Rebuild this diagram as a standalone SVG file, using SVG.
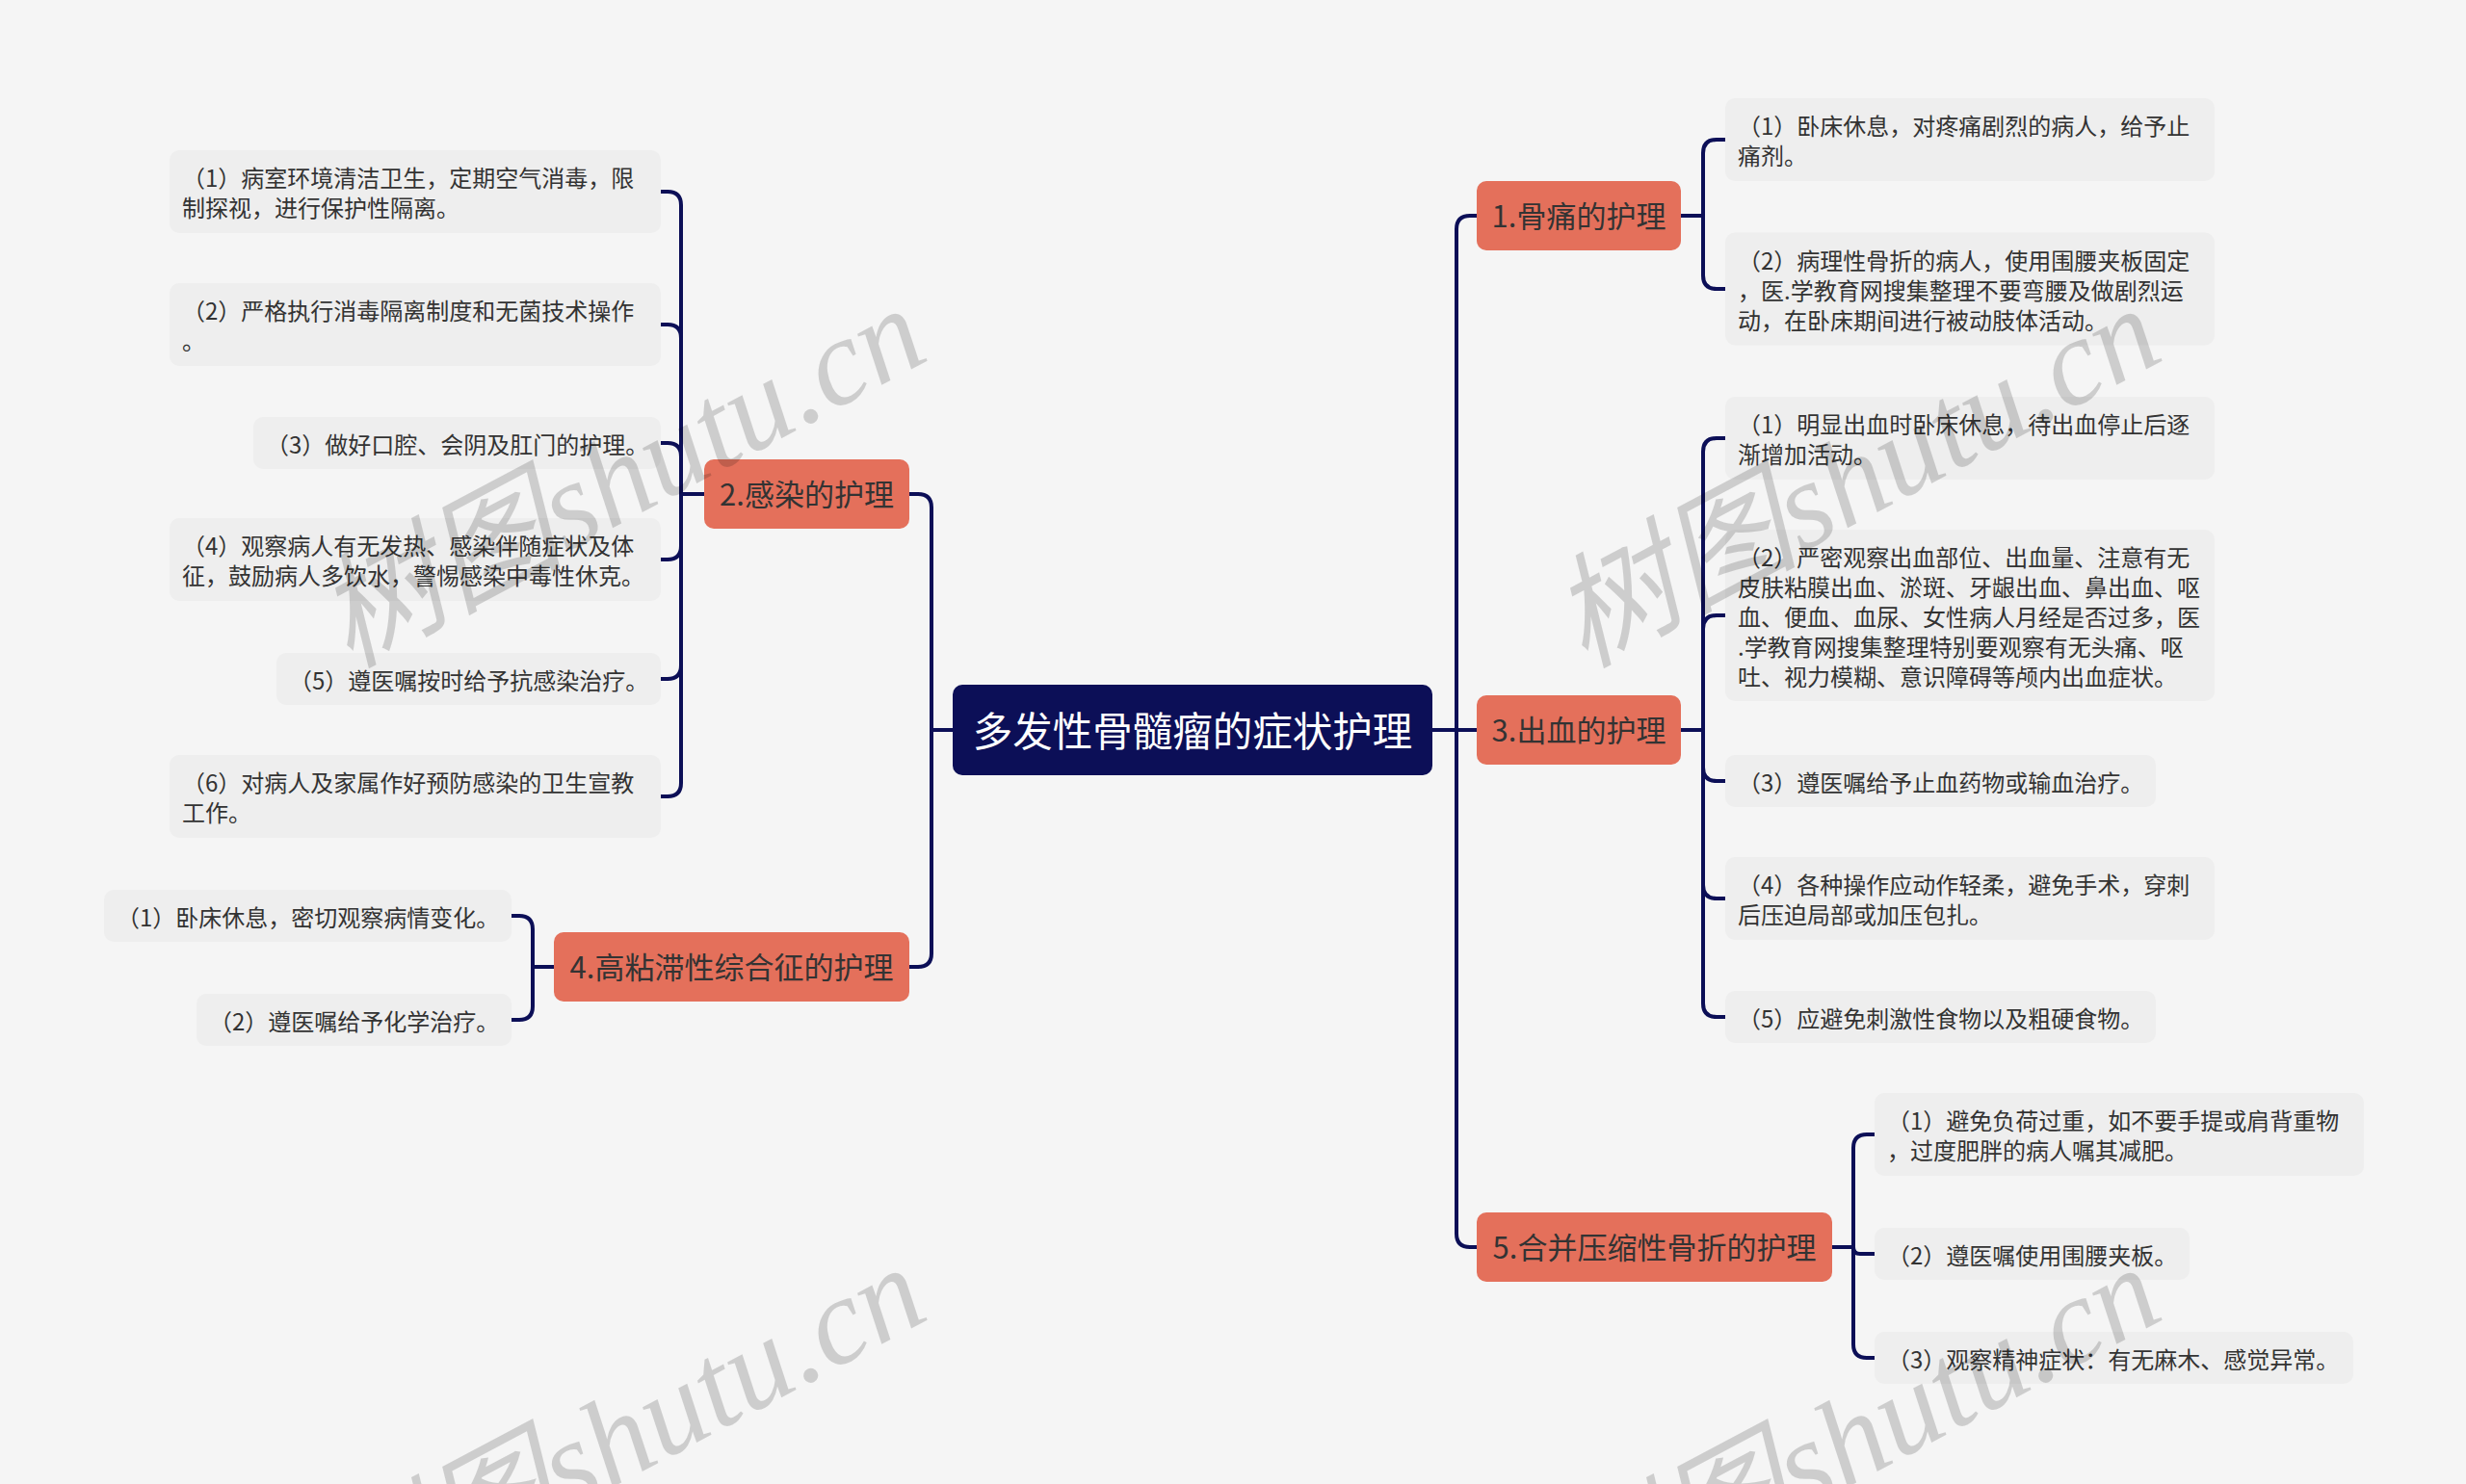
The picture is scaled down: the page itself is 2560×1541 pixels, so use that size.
<svg xmlns="http://www.w3.org/2000/svg" width="2560" height="1541" viewBox="0 0 2560 1541">
<style>
.bg{fill:#F5F5F5}
.leaf{fill:#EEEEEE}
.lt{font-family:"Noto Sans CJK SC","Noto Sans",sans-serif;font-size:24px;fill:#333333;dominant-baseline:central}
.l1{fill:#E4705B}
.l1t{font-family:"Noto Sans CJK SC","Noto Sans",sans-serif;font-size:31px;fill:#333333;text-anchor:middle;dominant-baseline:central}
.root{fill:#0C0F57}
.rt{font-family:"Noto Sans CJK SC","Noto Sans",sans-serif;font-size:41.5px;fill:#FFFFFF;text-anchor:middle;dominant-baseline:central}
.c{fill:none;stroke:#0C0F57;stroke-width:4;stroke-linecap:round}
.wm{font-family:"Liberation Serif","Noto Sans CJK SC",serif;font-style:italic;font-size:128px;fill:#000000;fill-opacity:0.16}
</style>
<rect class="bg" x="0" y="0" width="2560" height="1541"/>

<g id="connectors">
<path class="c" d="M1487,758 H1512"/>
<path class="c" d="M1512,758 V238 Q1512,224 1526,224 H1533"/>
<path class="c" d="M1512,758 H1533"/>
<path class="c" d="M1512,758 V1281 Q1512,1295 1526,1295 H1533"/>
<path class="c" d="M989,758 H967"/>
<path class="c" d="M967,758 V527 Q967,513 953,513 H944"/>
<path class="c" d="M967,758 V990 Q967,1004 953,1004 H944"/>
<path class="c" d="M1745,224 H1768"/>
<path class="c" d="M1768,224 V159 Q1768,145 1782,145 H1791"/>
<path class="c" d="M1768,224 V286 Q1768,300 1782,300 H1791"/>
<path class="c" d="M1745,758 H1768"/>
<path class="c" d="M1768,758 V469 Q1768,455 1782,455 H1791"/>
<path class="c" d="M1768,758 V653 Q1768,639 1782,639 H1791"/>
<path class="c" d="M1768,758 V797 Q1768,811 1782,811 H1791"/>
<path class="c" d="M1768,758 V919 Q1768,933 1782,933 H1791"/>
<path class="c" d="M1768,758 V1042 Q1768,1056 1782,1056 H1791"/>
<path class="c" d="M1902,1295 H1924"/>
<path class="c" d="M1924,1295 V1192 Q1924,1178 1938,1178 H1946"/>
<path class="c" d="M1924,1295 Q1924,1302 1931,1302 H1946"/>
<path class="c" d="M1924,1295 V1396 Q1924,1410 1938,1410 H1946"/>
<path class="c" d="M731,513 H707"/>
<path class="c" d="M707,513 V213 Q707,199 693,199 H686"/>
<path class="c" d="M707,513 V351 Q707,337 693,337 H686"/>
<path class="c" d="M707,513 V474 Q707,460 693,460 H686"/>
<path class="c" d="M707,513 V567 Q707,581 693,581 H686"/>
<path class="c" d="M707,513 V691 Q707,705 693,705 H686"/>
<path class="c" d="M707,513 V813 Q707,827 693,827 H686"/>
<path class="c" d="M575,1004 H553"/>
<path class="c" d="M553,1004 V965 Q553,951 539,951 H531"/>
<path class="c" d="M553,1004 V1045 Q553,1059 539,1059 H531"/>
</g>

<g id="root">
<rect class="root" x="989" y="711" width="498" height="94" rx="10"/>
<text class="rt" x="1238" y="757">多发性骨髓瘤的症状护理</text>
</g>

<g id="n1">
<rect class="l1" x="1533" y="188" width="212" height="72" rx="10"/>
<text class="l1t" x="1639" y="222">1.骨痛的护理</text>
</g>
<g id="n3">
<rect class="l1" x="1533" y="722" width="212" height="72" rx="10"/>
<text class="l1t" x="1639" y="756">3.出血的护理</text>
</g>
<g id="n5">
<rect class="l1" x="1533" y="1259" width="369" height="72" rx="10"/>
<text class="l1t" x="1717.5" y="1293">5.合并压缩性骨折的护理</text>
</g>
<g id="n2">
<rect class="l1" x="731" y="477" width="213" height="72" rx="10"/>
<text class="l1t" x="837.5" y="511">2.感染的护理</text>
</g>
<g id="n4">
<rect class="l1" x="575" y="968" width="369" height="72" rx="10"/>
<text class="l1t" x="759.5" y="1002">4.高粘滞性综合征的护理</text>
</g>

<g id="n1-1">
<rect class="leaf" x="1791" y="102" width="508" height="86" rx="10"/>
<text class="lt" x="1804" y="129.5">（1）卧床休息，对疼痛剧烈的病人，给予止</text>
<text class="lt" x="1804" y="160.5">痛剂。</text>
</g>
<g id="n1-2">
<rect class="leaf" x="1791" y="241.5" width="508" height="117" rx="10"/>
<text class="lt" x="1804" y="269">（2）病理性骨折的病人，使用围腰夹板固定</text>
<text class="lt" x="1804" y="300">，医.学教育网搜集整理不要弯腰及做剧烈运</text>
<text class="lt" x="1804" y="331">动，在卧床期间进行被动肢体活动。</text>
</g>
<g id="n3-1">
<rect class="leaf" x="1791" y="412" width="508" height="86" rx="10"/>
<text class="lt" x="1804" y="439.5">（1）明显出血时卧床休息，待出血停止后逐</text>
<text class="lt" x="1804" y="470.5">渐增加活动。</text>
</g>
<g id="n3-2">
<rect class="leaf" x="1791" y="550" width="508" height="178" rx="10"/>
<text class="lt" x="1804" y="577">（2）严密观察出血部位、出血量、注意有无</text>
<text class="lt" x="1804" y="608">皮肤粘膜出血、淤斑、牙龈出血、鼻出血、呕</text>
<text class="lt" x="1804" y="639">血、便血、血尿、女性病人月经是否过多，医</text>
<text class="lt" x="1804" y="670">.学教育网搜集整理特别要观察有无头痛、呕</text>
<text class="lt" x="1804" y="701">吐、视力模糊、意识障碍等颅内出血症状。</text>
</g>
<g id="n3-3">
<rect class="leaf" x="1791" y="784" width="447" height="54" rx="10"/>
<text class="lt" x="1804" y="811">（3）遵医嘱给予止血药物或输血治疗。</text>
</g>
<g id="n3-4">
<rect class="leaf" x="1791" y="890" width="508" height="86" rx="10"/>
<text class="lt" x="1804" y="917.5">（4）各种操作应动作轻柔，避免手术，穿刺</text>
<text class="lt" x="1804" y="948.5">后压迫局部或加压包扎。</text>
</g>
<g id="n3-5">
<rect class="leaf" x="1791" y="1029" width="447" height="54" rx="10"/>
<text class="lt" x="1804" y="1056">（5）应避免刺激性食物以及粗硬食物。</text>
</g>
<g id="n5-1">
<rect class="leaf" x="1946" y="1135" width="508" height="86" rx="10"/>
<text class="lt" x="1959" y="1162.5">（1）避免负荷过重，如不要手提或肩背重物</text>
<text class="lt" x="1959" y="1193.5">，过度肥胖的病人嘱其减肥。</text>
</g>
<g id="n5-2">
<rect class="leaf" x="1946" y="1275" width="327" height="54" rx="10"/>
<text class="lt" x="1959" y="1302">（2）遵医嘱使用围腰夹板。</text>
</g>
<g id="n5-3">
<rect class="leaf" x="1946" y="1383" width="497" height="54" rx="10"/>
<text class="lt" x="1959" y="1410">（3）观察精神症状：有无麻木、感觉异常。</text>
</g>

<g id="n2-1">
<rect class="leaf" x="176" y="156" width="510" height="86" rx="10"/>
<text class="lt" x="189" y="183.5">（1）病室环境清洁卫生，定期空气消毒，限</text>
<text class="lt" x="189" y="214.5">制探视，进行保护性隔离。</text>
</g>
<g id="n2-2">
<rect class="leaf" x="176" y="294" width="510" height="86" rx="10"/>
<text class="lt" x="189" y="321.5">（2）严格执行消毒隔离制度和无菌技术操作</text>
<text class="lt" x="189" y="352.5">。</text>
</g>
<g id="n2-3">
<rect class="leaf" x="263" y="433" width="423" height="54" rx="10"/>
<text class="lt" x="276" y="460">（3）做好口腔、会阴及肛门的护理。</text>
</g>
<g id="n2-4">
<rect class="leaf" x="176" y="538" width="510" height="86" rx="10"/>
<text class="lt" x="189" y="565.5">（4）观察病人有无发热、感染伴随症状及体</text>
<text class="lt" x="189" y="596.5">征，鼓励病人多饮水，警惕感染中毒性休克。</text>
</g>
<g id="n2-5">
<rect class="leaf" x="287" y="678" width="399" height="54" rx="10"/>
<text class="lt" x="300" y="705">（5）遵医嘱按时给予抗感染治疗。</text>
</g>
<g id="n2-6">
<rect class="leaf" x="176" y="784" width="510" height="86" rx="10"/>
<text class="lt" x="189" y="811.5">（6）对病人及家属作好预防感染的卫生宣教</text>
<text class="lt" x="189" y="842.5">工作。</text>
</g>
<g id="n4-1">
<rect class="leaf" x="108" y="924" width="423" height="54" rx="10"/>
<text class="lt" x="121" y="951">（1）卧床休息，密切观察病情变化。</text>
</g>
<g id="n4-2">
<rect class="leaf" x="204" y="1032" width="327" height="54" rx="10"/>
<text class="lt" x="217" y="1059">（2）遵医嘱给予化学治疗。</text>
</g>

<g id="watermarks">
<text class="wm" transform="translate(362,694) rotate(-28)">树图shutu.cn</text>
<text class="wm" transform="translate(1644,694) rotate(-28)">树图shutu.cn</text>
<text class="wm" transform="translate(362,1690) rotate(-28)">树图shutu.cn</text>
<text class="wm" transform="translate(1644,1690) rotate(-28)">树图shutu.cn</text>
</g>
</svg>
